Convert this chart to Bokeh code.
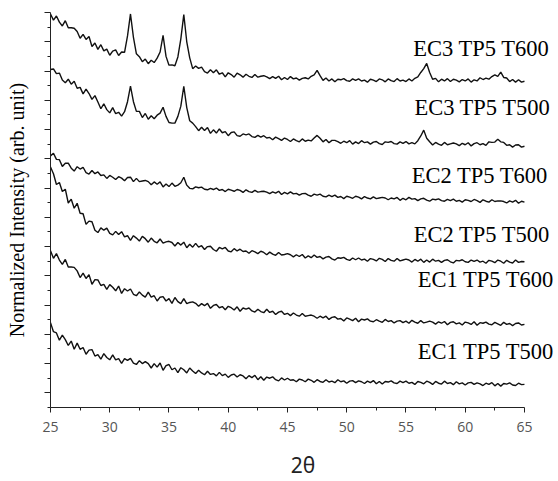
from bokeh.plotting import figure
from bokeh.models import Label, FixedTicker, CustomJSTickFormatter
from bokeh.embed import file_html
from bokeh.resources import INLINE

# 2-theta grid (degrees), 0.25 deg step from 25 to 65
two_theta = [round(25 + 0.25 * i, 2) for i in range(161)]

# Stacked, normalized intensities (arb. unit)
ec1_t500 = [
    2.90, 2.59, 2.55, 2.30, 2.47, 2.32, 2.12, 2.27,
    1.99, 2.20, 1.99, 2.05, 1.82, 1.96, 1.98, 1.76,
    1.81, 1.65, 1.84, 1.71, 1.63, 1.80, 1.63, 1.67,
    1.51, 1.67, 1.61, 1.68, 1.52, 1.47, 1.60, 1.50,
    1.57, 1.50, 1.35, 1.50, 1.38, 1.52, 1.27, 1.43,
    1.47, 1.29, 1.35, 1.19, 1.36, 1.29, 1.18, 1.35,
    1.25, 1.16, 1.27, 1.18, 1.12, 1.24, 1.13, 1.16,
    1.08, 1.20, 1.09, 1.14, 1.03, 1.11, 1.14, 1.04,
    1.12, 1.08, 0.98, 1.09, 1.02, 1.10, 0.95, 1.05,
    0.93, 1.04, 1.00, 1.05, 0.95, 0.91, 1.01, 0.94,
    1.00, 0.93, 0.95, 0.88, 0.97, 0.94, 0.88, 0.97,
    0.93, 0.86, 0.95, 0.89, 0.86, 0.95, 0.87, 0.90,
    0.85, 0.95, 0.88, 0.91, 0.83, 0.90, 0.92, 0.85,
    0.91, 0.88, 0.82, 0.90, 0.85, 0.92, 0.81, 0.89,
    0.80, 0.89, 0.87, 0.91, 0.84, 0.82, 0.90, 0.85,
    0.90, 0.83, 0.86, 0.79, 0.89, 0.86, 0.81, 0.90,
    0.86, 0.79, 0.89, 0.83, 0.80, 0.90, 0.82, 0.85,
    0.78, 0.88, 0.81, 0.84, 0.77, 0.84, 0.86, 0.79,
    0.84, 0.81, 0.75, 0.83, 0.79, 0.85, 0.74, 0.82,
    0.73, 0.82, 0.80, 0.84, 0.77, 0.75, 0.83, 0.78,
    0.79]

ec1_t600 = [
    5.36, 5.10, 5.26, 5.04, 4.89, 5.06, 4.80, 4.80,
    4.79, 4.67, 4.44, 4.59, 4.41, 4.54, 4.21, 4.37,
    4.36, 4.17, 4.21, 4.04, 4.20, 4.11, 3.99, 4.15,
    3.90, 4.06, 3.98, 4.05, 3.87, 3.82, 3.95, 3.84,
    3.77, 3.94, 3.77, 3.82, 3.64, 3.77, 3.79, 3.64,
    3.72, 3.56, 3.76, 3.62, 3.55, 3.72, 3.55, 3.59,
    3.61, 3.56, 3.46, 3.55, 3.48, 3.56, 3.39, 3.49,
    3.52, 3.41, 3.45, 3.34, 3.46, 3.41, 3.33, 3.44,
    3.29, 3.40, 3.36, 3.40, 3.30, 3.26, 3.36, 3.28,
    3.24, 3.36, 3.25, 3.29, 3.18, 3.26, 3.29, 3.18,
    3.22, 3.14, 3.23, 3.16, 3.12, 3.21, 3.12, 3.14,
    3.16, 3.12, 3.05, 3.12, 3.06, 3.12, 3.01, 3.08,
    3.10, 3.02, 3.04, 2.96, 3.06, 3.02, 2.97, 3.05,
    2.93, 3.02, 2.99, 3.03, 2.95, 2.93, 3.00, 2.95,
    2.91, 3.01, 2.94, 2.97, 2.89, 2.95, 2.97, 2.90,
    2.95, 2.88, 2.98, 2.92, 2.88, 2.97, 2.89, 2.92,
    2.95, 2.92, 2.85, 2.93, 2.88, 2.94, 2.83, 2.91,
    2.93, 2.86, 2.89, 2.82, 2.92, 2.89, 2.84, 2.93,
    2.81, 2.90, 2.88, 2.92, 2.85, 2.83, 2.91, 2.86,
    2.81, 2.91, 2.84, 2.87, 2.80, 2.87, 2.89, 2.82,
    2.84]

ec2_t500 = [
    8.22, 7.99, 7.62, 7.69, 7.38, 7.46, 6.99, 7.12,
    6.81, 6.98, 6.64, 6.62, 6.26, 6.37, 6.35, 6.06,
    5.98, 6.14, 6.06, 6.13, 5.95, 5.90, 6.02, 5.91,
    6.01, 5.83, 5.87, 5.71, 5.87, 5.79, 5.69, 5.85,
    5.77, 5.65, 5.79, 5.68, 5.63, 5.76, 5.62, 5.66,
    5.68, 5.64, 5.52, 5.64, 5.55, 5.65, 5.46, 5.58,
    5.48, 5.61, 5.48, 5.53, 5.40, 5.50, 5.51, 5.40,
    5.34, 5.47, 5.42, 5.47, 5.35, 5.32, 5.43, 5.35,
    5.41, 5.33, 5.35, 5.27, 5.36, 5.32, 5.26, 5.34,
    5.30, 5.22, 5.31, 5.24, 5.20, 5.30, 5.21, 5.23,
    5.26, 5.22, 5.15, 5.22, 5.16, 5.23, 5.11, 5.18,
    5.12, 5.21, 5.13, 5.16, 5.08, 5.14, 5.16, 5.08,
    5.04, 5.12, 5.10, 5.13, 5.06, 5.03, 5.11, 5.05,
    5.11, 5.04, 5.07, 5.00, 5.09, 5.06, 5.01, 5.10,
    5.06, 4.99, 5.09, 5.03, 5.00, 5.09, 5.01, 5.04,
    5.07, 5.04, 4.97, 5.06, 5.00, 5.07, 4.96, 5.04,
    4.97, 5.07, 5.00, 5.03, 4.96, 5.03, 5.05, 4.98,
    4.94, 5.03, 5.01, 5.05, 4.98, 4.96, 5.04, 4.99,
    5.04, 4.97, 5.00, 4.93, 5.03, 5.00, 4.95, 5.04,
    5.00, 4.93, 5.03, 4.97, 4.94, 5.04, 4.96, 4.99,
    4.98]

ec2_t600 = [
    8.60, 8.69, 8.48, 8.47, 8.24, 8.35, 8.35, 8.18,
    8.08, 8.23, 8.15, 8.21, 8.03, 7.98, 8.10, 7.99,
    8.05, 7.93, 7.95, 7.83, 7.93, 7.87, 7.79, 7.89,
    7.84, 7.75, 7.86, 7.87, 7.72, 7.83, 7.72, 7.74,
    7.76, 7.72, 7.61, 7.71, 7.63, 7.71, 7.54, 7.64,
    7.55, 7.67, 7.56, 7.60, 7.68, 7.87, 7.60, 7.49,
    7.47, 7.54, 7.51, 7.53, 7.46, 7.44, 7.49, 7.45,
    7.50, 7.42, 7.45, 7.38, 7.46, 7.43, 7.39, 7.45,
    7.42, 7.35, 7.44, 7.38, 7.35, 7.42, 7.36, 7.38,
    7.39, 7.36, 7.31, 7.37, 7.33, 7.39, 7.28, 7.35,
    7.30, 7.37, 7.30, 7.32, 7.26, 7.31, 7.32, 7.26,
    7.22, 7.29, 7.26, 7.29, 7.22, 7.20, 7.26, 7.21,
    7.26, 7.18, 7.21, 7.14, 7.22, 7.19, 7.15, 7.22,
    7.19, 7.13, 7.21, 7.16, 7.13, 7.20, 7.14, 7.16,
    7.18, 7.16, 7.10, 7.16, 7.13, 7.18, 7.08, 7.15,
    7.10, 7.18, 7.12, 7.14, 7.07, 7.13, 7.15, 7.09,
    7.05, 7.12, 7.10, 7.13, 7.07, 7.05, 7.11, 7.07,
    7.12, 7.05, 7.08, 7.02, 7.10, 7.08, 7.04, 7.11,
    7.07, 7.01, 7.10, 7.05, 7.02, 7.10, 7.04, 7.06,
    7.06, 7.04, 6.99, 7.06, 7.02, 7.08, 6.98, 7.05,
    7.02]

ec3_t500 = [
    11.55, 11.57, 11.41, 11.43, 11.19, 11.10, 11.22, 11.05,
    11.15, 10.91, 10.94, 10.72, 10.88, 10.73, 10.53, 10.66,
    10.44, 10.21, 10.38, 10.18, 10.07, 10.25, 10.04, 10.09,
    9.96, 10.11, 10.45, 10.98, 10.45, 10.12, 10.12, 9.91,
    10.05, 9.85, 9.97, 9.87, 9.99, 10.06, 10.26, 9.95,
    9.74, 9.72, 9.72, 9.95, 10.30, 10.98, 10.25, 9.80,
    9.72, 9.60, 9.46, 9.58, 9.47, 9.57, 9.37, 9.49,
    9.38, 9.52, 9.39, 9.43, 9.29, 9.40, 9.42, 9.29,
    9.27, 9.35, 9.32, 9.35, 9.26, 9.23, 9.30, 9.24,
    9.29, 9.21, 9.23, 9.15, 9.24, 9.19, 9.13, 9.21,
    9.16, 9.09, 9.18, 9.12, 9.08, 9.18, 9.10, 9.14,
    9.11, 9.21, 9.30, 9.20, 9.08, 9.16, 9.05, 9.13,
    9.13, 9.09, 9.03, 9.10, 9.05, 9.12, 9.00, 9.08,
    9.02, 9.12, 9.05, 9.08, 9.00, 9.07, 9.09, 9.02,
    8.99, 9.08, 9.06, 9.09, 9.02, 9.00, 9.08, 9.03,
    9.09, 9.01, 9.05, 9.01, 9.12, 9.28, 9.48, 9.20,
    9.08, 8.97, 9.06, 9.00, 8.96, 9.06, 8.98, 9.01,
    9.04, 9.01, 8.95, 9.03, 8.98, 9.05, 8.94, 9.02,
    9.05, 8.98, 9.02, 8.96, 9.08, 9.06, 9.07, 9.17,
    9.08, 9.06, 8.96, 8.98, 8.90, 8.97, 8.98, 8.90,
    8.93]

ec3_t600 = [
    13.45, 13.24, 13.38, 13.17, 13.04, 13.22, 12.98, 12.98,
    12.96, 12.85, 12.62, 12.75, 12.58, 12.68, 12.34, 12.46,
    12.24, 12.40, 12.19, 12.25, 12.04, 12.18, 12.22, 12.03,
    12.15, 12.14, 12.70, 13.45, 12.65, 12.09, 11.99, 11.82,
    11.91, 11.75, 11.87, 11.79, 11.94, 12.15, 12.72, 12.00,
    11.70, 11.71, 11.68, 11.98, 12.60, 13.43, 12.50, 11.95,
    11.58, 11.67, 11.59, 11.63, 11.48, 11.43, 11.54, 11.44,
    11.54, 11.39, 11.44, 11.30, 11.44, 11.38, 11.29, 11.43,
    11.37, 11.29, 11.39, 11.32, 11.28, 11.38, 11.29, 11.32,
    11.34, 11.30, 11.24, 11.31, 11.25, 11.32, 11.20, 11.28,
    11.21, 11.31, 11.23, 11.26, 11.19, 11.25, 11.27, 11.23,
    11.32, 11.37, 11.52, 11.34, 11.18, 11.26, 11.16, 11.23,
    11.13, 11.22, 11.20, 11.24, 11.17, 11.15, 11.23, 11.18,
    11.23, 11.16, 11.19, 11.12, 11.22, 11.19, 11.14, 11.23,
    11.20, 11.13, 11.23, 11.17, 11.14, 11.24, 11.16, 11.19,
    11.14, 11.23, 11.16, 11.25, 11.30, 11.45, 11.58, 11.76,
    11.45, 11.22, 11.25, 11.13, 11.22, 11.16, 11.24, 11.14,
    11.22, 11.19, 11.13, 11.21, 11.16, 11.23, 11.12, 11.20,
    11.16, 11.27, 11.21, 11.26, 11.22, 11.31, 11.37, 11.32,
    11.46, 11.28, 11.26, 11.14, 11.21, 11.12, 11.20, 11.12,
    11.15]

series = [ec1_t500, ec1_t600, ec2_t500, ec2_t600, ec3_t500, ec3_t600]
sample_names = ["EC1 TP5 T500", "EC1 TP5 T600", "EC2 TP5 T500",
                "EC2 TP5 T600", "EC3 TP5 T500", "EC3 TP5 T600"]
x_ticks = [25, 30, 35, 40, 45, 50, 55, 60, 65]
x_minor = [27.5, 32.5, 37.5, 42.5, 47.5, 52.5, 57.5, 62.5]

# label anchor positions (data units)
label_x = [61.75, 61.75, 61.41, 61.24, 61.46, 61.37]
label_y = [1.91, 4.36, 5.90, 7.94, 10.26, 12.27]

p = figure(width=555, height=481, x_range=(25, 67.62), y_range=(0, 13.5),
           output_backend="svg", toolbar_location=None,
           min_border_left=50, min_border_right=0,
           min_border_top=12, min_border_bottom=73)
p.outline_line_color = None
p.grid.visible = False
p.background_fill_color = "white"
p.border_fill_color = "white"

for ys in series:
    p.line(two_theta, ys, line_color="#111111", line_width=1.4)

for name, lx, ly in zip(sample_names, label_x, label_y):
    p.add_layout(Label(x=lx, y=ly, text=name, text_align="center",
                       text_baseline="alphabetic",
                       text_font="Liberation Serif", text_font_size="22.5px",
                       text_color="black"))

# x axis (drawn only from 25 to 65)
p.xaxis.bounds = (25, 65)
p.xaxis.ticker = FixedTicker(ticks=x_ticks, minor_ticks=x_minor)
p.xaxis.axis_line_color = "#222222"
p.xaxis.major_tick_line_color = "#222222"
p.xaxis.minor_tick_line_color = "#222222"
p.xaxis.major_tick_in = 0
p.xaxis.major_tick_out = 5
p.xaxis.minor_tick_in = 0
p.xaxis.minor_tick_out = 3
p.xaxis.major_label_text_font = "Open Sans"
p.xaxis.major_label_text_font_size = "14px"
p.xaxis.major_label_text_color = "#555555"
p.xaxis.major_label_standoff = 9
p.xaxis.axis_label = "2θ"
p.xaxis.axis_label_text_font = "Noto Sans"
p.xaxis.axis_label_text_font_size = "21px"
p.xaxis.axis_label_text_font_style = "normal"
p.xaxis.axis_label_text_color = "#222222"
p.xaxis.axis_label_standoff = 16

# y axis (no numbers)
p.yaxis.ticker = FixedTicker(ticks=[0.5 + i for i in range(14)],
                             minor_ticks=[float(i) for i in range(14)])
p.yaxis.formatter = CustomJSTickFormatter(code="return '';")
p.yaxis.axis_line_color = "#222222"
p.yaxis.major_tick_line_color = "#222222"
p.yaxis.minor_tick_line_color = "#222222"
p.yaxis.major_tick_in = 0
p.yaxis.major_tick_out = 6
p.yaxis.minor_tick_in = 0
p.yaxis.minor_tick_out = 3
p.yaxis.major_label_standoff = 0
p.yaxis.axis_label = "Normalized Intensity (arb. unit)"
p.yaxis.axis_label_text_font = "Liberation Serif"
p.yaxis.axis_label_text_font_size = "20px"
p.yaxis.axis_label_text_font_style = "normal"
p.yaxis.axis_label_text_color = "black"
p.yaxis.axis_label_standoff = 17

open("out.html", "w").write(file_html(p, INLINE))
